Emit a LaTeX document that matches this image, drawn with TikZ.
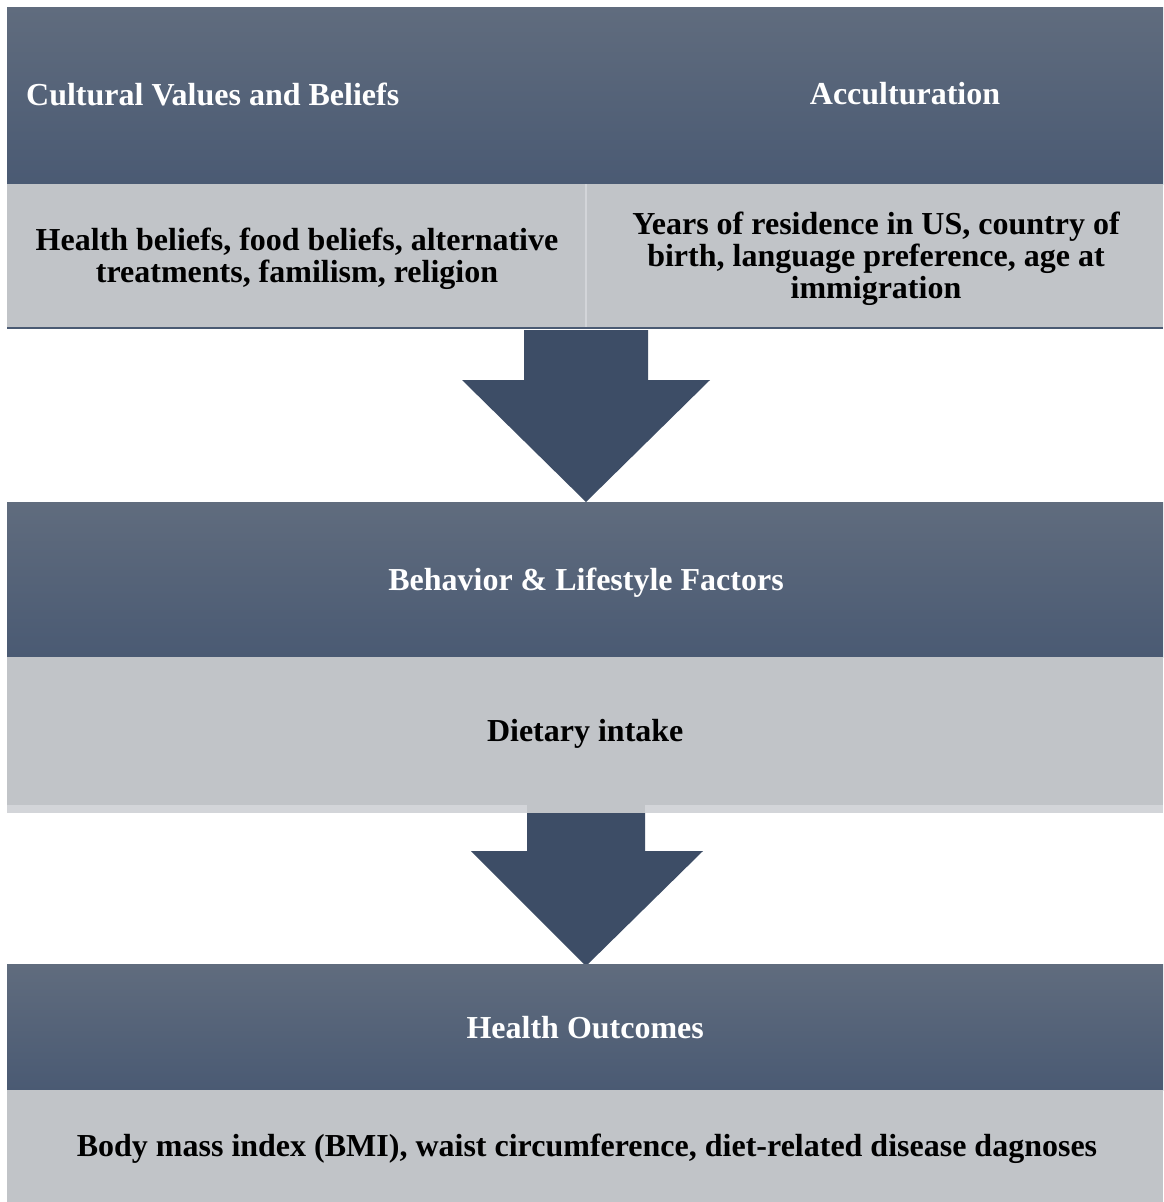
\documentclass[tikz,border=0pt]{standalone}
\usepackage{fontspec}
\setmainfont{Liberation Serif}
\usepackage{tikz}
\definecolor{headtop}{HTML}{606C7E}
\definecolor{headbot}{HTML}{4A5A73}
\definecolor{infogray}{HTML}{C1C4C8}
\definecolor{infolight}{HTML}{D3D5D9}
\definecolor{arrowblue}{HTML}{3D4D66}
\tikzset{
  headbox/.style={rectangle, top color=headtop, bottom color=headbot, draw=none, inner sep=0pt, anchor=north west},
  infobox/.style={rectangle, fill=infogray, inner sep=0pt, anchor=north west},
  headtext/.style={text=white, font=\fontsize{32}{32}\selectfont\bfseries, inner sep=0pt},
  infotext/.style={text=black, font=\fontsize{32}{32}\selectfont\bfseries, inner sep=0pt, align=center, yshift=-3pt}
}

\begin{document}
\begin{tikzpicture}[x=1pt,y=-1pt]
        \useasboundingbox[fill=white] (0,0) rectangle (1163,1202);
        % top row
        \node[headbox, minimum width=1156pt, minimum height=177pt] (head1) at (7,7) {};
        \node[headtext, anchor=west] (cult) at (26,94) {Cultural Values and Beliefs};
        \node[headtext] (accu) at (905,94) {Acculturation};
        \fill[infolight] (7,184) rectangle (1163,328);
        \node[infobox, minimum width=578pt, minimum height=144pt] (info1) at (7,184) {};
        \node[infobox, minimum width=576pt, minimum height=144pt] (info2) at (587,184) {};
        \node[infotext] (beliefs) at (297,256) {Health beliefs, food beliefs, alternative\\treatments, familism, religion};
        \node[infotext] (years) at (876,256) {Years of residence in US, country of\\birth, language preference, age at\\immigration};
        \draw[headbot, line width=2pt] (info1.south west) -- (info2.south east);
        % first arrow
        \fill[arrowblue] (524,330) -- (648,330) -- (648,380) -- (710,380) -- (586,502)
            -- (462,380) -- (524,380) -- cycle;
        % middle row
        \node[headbox, minimum width=1156pt, minimum height=155pt] (head2) at (7,502) {};
        \node[headtext] (behav) at (586,583) {Behavior \& Lifestyle Factors};
        \node[infobox, minimum width=1156pt, minimum height=148pt] (info3) at (7,657) {};
        \node[infotext] (diet) at (info3.center) {Dietary intake};
        \fill[infolight] (info3.south west) rectangle (1163,813);
        \fill[infogray] (527,805) rectangle (645,813);
        % second arrow
        \fill[arrowblue] (527,813) -- (645,813) -- (645,851) -- (703,851) -- (586,966)
            -- (471,851) -- (527,851) -- cycle;
        % bottom row
        \node[headbox, minimum width=1156pt, minimum height=126pt] (head3) at (7,964) {};
        \node[headtext] (outc) at (head3.center) {Health Outcomes};
        \node[infobox, minimum width=1156pt, minimum height=112pt] (info4) at (7,1090) {};
        \node[infotext] (bmi) at (587,1146) {Body mass index (BMI), waist circumference, diet-related disease dagnoses};
    \end{tikzpicture}
\end{document}
